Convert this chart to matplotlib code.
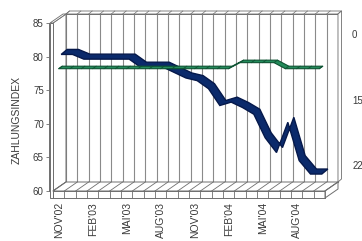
import matplotlib
matplotlib.use("Agg")
import matplotlib.pyplot as plt
from matplotlib.patches import Polygon
import numpy as np

plt.rcParams['font.family'] = ['Liberation Sans', 'DejaVu Sans']

# ---------------- data ----------------
months = ["NOV'02", "DEZ'02", "JAN'03", "FEB'03", "MÄR'03", "APR'03", "MAI'03", "JUN'03",
          "JUL'03", "AUG'03", "SEP'03", "OKT'03", "NOV'03", "DEZ'03", "JAN'04", "FEB'04",
          "MÄR'04", "APR'04", "MAI'04", "JUN'04", "JUL'04", "AUG'04", "SEP'04", "OKT'04"]
zahlungsindex = [80.1, 80.1, 79.4, 79.4, 79.4, 79.4, 79.4, 78.2, 78.2, 78.2, 77.4, 76.6,
                 76.2, 75.0, 72.5, 73.0, 72.2, 71.2, 67.7, 65.5, 70.0, 64.3, 62.3, 62.3]
zweite_reihe = [78.2] * 16 + [79.1] * 4 + [78.2] * 4
y_ticks = [60, 65, 70, 75, 80, 85]
right_tick_pos = [83.4, 73.5, 63.8]
right_tick_labels = ["0", "15", "22"]
y_label = "ZAHLUNGSINDEX"

# ---------------- figure ----------------
W, H = 362, 241
fig = plt.figure(figsize=(W / 100, H / 100), dpi=100)
L, R, T, B = 53, 325, 23, 191
ax = fig.add_axes([L / W, 1 - B / H, (R - L) / W, (B - T) / H])
n = len(months)
ax.set_xlim(-0.5, n - 0.5)
ax.set_ylim(60, 85)
ax.patch.set_visible(False)

PXC = (R - L) / n          # pixels per category
PXV = (B - T) / 25.0       # pixels per value unit


def D(dx, dy):
    return dx / PXC, dy / PXV


grey = '#8a8a8a'
edge = '#6e6e6e'
BX, BY = D(13, 9)
TX, TY = D(16.5, 12)
x0, x1 = -0.5, n - 0.5
PL = 7 / PXV
S = 3 / PXC

kw = dict(clip_on=False)

# back wall
ax.add_patch(Polygon([(x0 + BX, 60 + BY), (x1 + BX, 60 + BY), (x1 + BX, 85 + BY), (x0 + BX, 85 + BY)],
                     closed=True, fc='white', ec=edge, lw=0.7, zorder=1, **kw))
for k in range(n + 1):
    xx = x0 + k + BX
    ax.plot([xx, xx], [60 + BY, 85 + BY], color=grey, lw=0.8, zorder=1.1, **kw)
    ax.plot([xx, x0 + k + TX], [85 + BY, 85 + TY], color=edge, lw=0.5, zorder=1.1, **kw)
# back wall top strip and right strip
ax.add_patch(Polygon([(x0 + BX, 85 + BY), (x1 + BX, 85 + BY), (x1 + TX, 85 + TY), (x0 + TX, 85 + TY)],
                     closed=True, fc='none', ec=edge, lw=0.6, zorder=1.2, **kw))
ax.add_patch(Polygon([(x1 + BX, 85 + BY), (x1 + TX, 85 + TY), (x1 + TX, 60 + TY), (x1 + BX, 60 + BY)],
                     closed=True, fc='white', ec=edge, lw=0.6, zorder=1.2, **kw))

# left wall
ax.add_patch(Polygon([(x0, 60), (x0, 85), (x0 + BX, 85 + BY), (x0 + BX, 60 + BY)],
                     closed=True, fc='white', ec=edge, lw=0.7, zorder=1.3, **kw))
ax.add_patch(Polygon([(x0 - S, 60 - PL), (x0, 60 - PL), (x0, 85), (x0 - S, 85)],
                     closed=True, fc='white', ec=edge, lw=0.7, zorder=1.35, **kw))
ax.add_patch(Polygon([(x0 - S, 85), (x0, 85), (x0 + BX, 85 + BY), (x0 - S + BX, 85 + BY)],
                     closed=True, fc='white', ec=edge, lw=0.6, zorder=1.35, **kw))

# floor
ax.add_patch(Polygon([(x0, 60), (x1, 60), (x1 + BX, 60 + BY), (x0 + BX, 60 + BY)],
                     closed=True, fc='white', ec=edge, lw=0.7, zorder=1.4, **kw))
ax.add_patch(Polygon([(x0, 60 - PL), (x1, 60 - PL), (x1, 60), (x0, 60)],
                     closed=True, fc='white', ec=edge, lw=0.7, zorder=1.45, **kw))
ax.add_patch(Polygon([(x1, 60 - PL), (x1 + BX, 60 + BY - PL), (x1 + BX, 60 + BY), (x1, 60)],
                     closed=True, fc='white', ec=edge, lw=0.7, zorder=1.45, **kw))
for k in range(n + 1):
    xx = x0 + k
    ax.plot([xx, xx + BX], [60, 60 + BY], color=edge, lw=0.6, zorder=1.5, **kw)
    ax.plot([xx, xx], [60 - PL, 60], color=edge, lw=0.6, zorder=1.5, **kw)


def ribbon(vals, f, b, fc, ec, z, lw=0.8, dividers=False):
    fx, fy = D(*f)
    bx, by = D(*b)
    xs = np.arange(len(vals))
    v = np.asarray(vals, float)
    front = list(zip(xs + fx, v + fy))
    back = list(zip(xs + bx, v + by))
    ax.add_patch(Polygon(front + back[::-1], closed=True, fc=fc, ec=ec, lw=lw,
                         joinstyle='miter', zorder=z, **kw))
    if dividers:
        for i in range(len(vals)):
            ax.plot([xs[i] + fx, xs[i] + bx], [v[i] + fy, v[i] + by], color=ec, lw=0.6,
                    zorder=z + 0.1, **kw)


ribbon(zahlungsindex, (2.5, 1.5), (8.5, 6.5), '#0b2a6b', '#05184a', 3, lw=1.0)
ribbon(zweite_reihe, (0, 0), (3.5, 2.5), '#238a5a', '#0d5232', 4, dividers=True)

# axes ticks
for s in ['top', 'right', 'bottom']:
    ax.spines[s].set_visible(False)
ax.spines['left'].set_position(('outward', 3))
ax.spines['left'].set_color(edge)
ax.spines['left'].set_linewidth(0.7)
ax.set_yticks(y_ticks)
ax.set_yticklabels([str(t) for t in y_ticks])
ax.tick_params(axis='y', direction='out', length=2.4, width=0.6, color=edge, pad=1.2,
               labelsize=7, labelcolor='#3a3a3a')
tick_idx = list(range(0, n, 3))
ax.set_xticks(tick_idx)
ax.set_xticklabels([months[i] for i in tick_idx], rotation=90)
ax.tick_params(axis='x', length=0, pad=8, labelsize=7.5, labelcolor='#3a3a3a')

ax2 = ax.twinx()
ax2.set_ylim(60, 85)
for s in ax2.spines.values():
    s.set_visible(False)
ax2.set_yticks(right_tick_pos)
ax2.set_yticklabels(right_tick_labels)
ax2.tick_params(axis='y', length=0, pad=19.5, labelsize=7, labelcolor='#3a3a3a')

fig.text(16.7 / W, 1 - 120 / H, y_label, rotation=90, ha='center', va='center',
         fontsize=7.5, color='#3a3a3a')

fig.savefig('out.png', dpi=100, facecolor='white')
